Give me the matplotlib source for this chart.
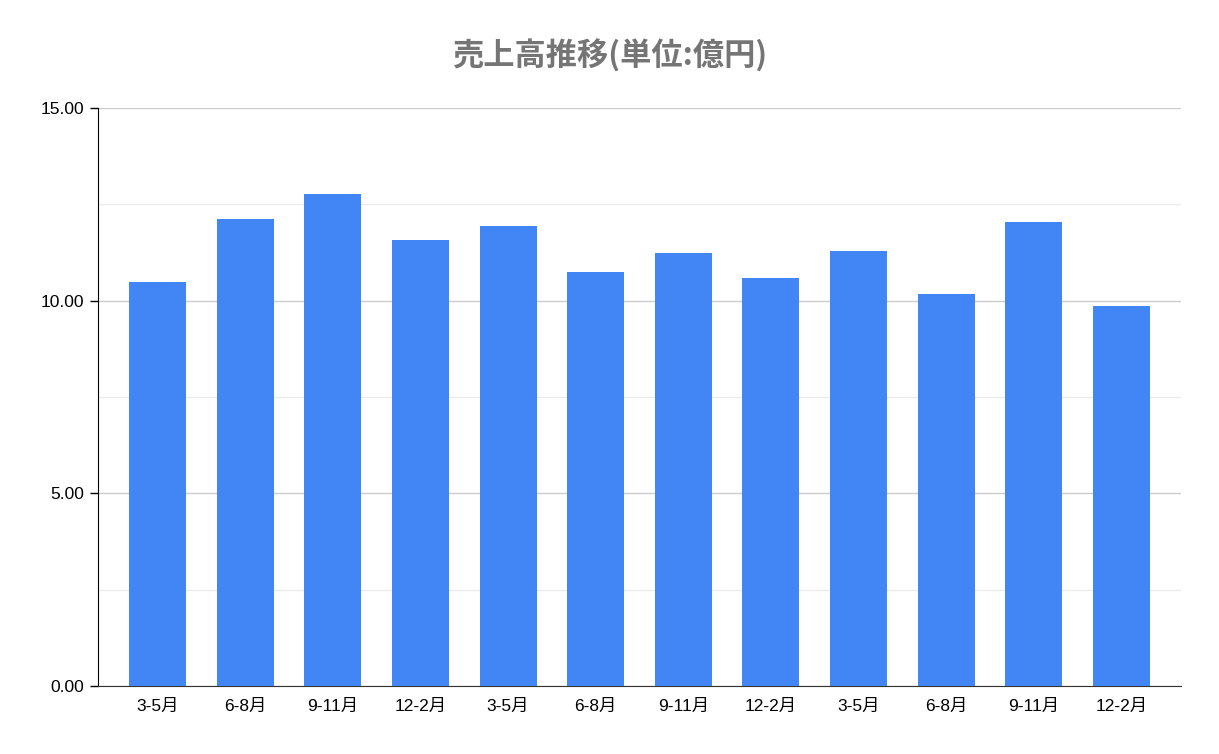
import matplotlib
matplotlib.use('Agg')
import matplotlib.pyplot as plt
import numpy as np
from matplotlib.ticker import MultipleLocator

plt.rcParams['font.family'] = ['Liberation Sans', 'Noto Sans CJK JP']

# quarterly sales (unit: 100 million yen)
labels = ['3-5月', '6-8月', '9-11月', '12-2月', '3-5月', '6-8月',
          '9-11月', '12-2月', '3-5月', '6-8月', '9-11月', '12-2月']
sales = [10.49, 12.12, 12.77, 11.58, 11.94, 10.75,
         11.24, 10.59, 11.29, 10.17, 12.04, 9.86]

fig = plt.figure(figsize=(12.19, 7.54), dpi=100)
ax = fig.add_axes([98/1219, 1 - 686/754, (1181-98)/1219, (686-108)/754])

x = np.arange(len(sales))
ax.bar(x, sales, width=0.65, color='#4285f4', zorder=3)

ax.set_xlim(-0.68, len(sales) - 1 + 0.68)
ax.set_ylim(0, 15)
ax.yaxis.set_major_locator(MultipleLocator(5))
ax.yaxis.set_minor_locator(MultipleLocator(2.5))
ax.set_yticks([0, 5, 10, 15])
ax.set_yticklabels(['%.2f' % v for v in [0, 5, 10, 15]])
ax.set_ylim(0, 15)
ax.grid(axis='y', which='major', color='#cccccc', linewidth=1, zorder=0)
ax.grid(axis='y', which='minor', color='#ebebeb', linewidth=1, zorder=0)

ax.set_xticks(x)
ax.set_xticklabels(labels)
ax.tick_params(axis='x', length=0, pad=9, labelsize=12.5)
ax.tick_params(axis='y', which='major', length=6, width=1, color='black', labelsize=12.5, pad=4)
ax.tick_params(axis='y', which='minor', length=0)

for s in ['top', 'right']:
    ax.spines[s].set_visible(False)
ax.spines['left'].set_color('black')
ax.spines['bottom'].set_color('#333333')

fig.text(0.5, 1 - 56/754, '売上高推移(単位:億円)', ha='center', va='center',
         fontsize=22.5, fontweight='bold', color='#757575',
         family=['Noto Sans CJK JP', 'DejaVu Sans'])

plt.savefig('out.png', dpi=100)
